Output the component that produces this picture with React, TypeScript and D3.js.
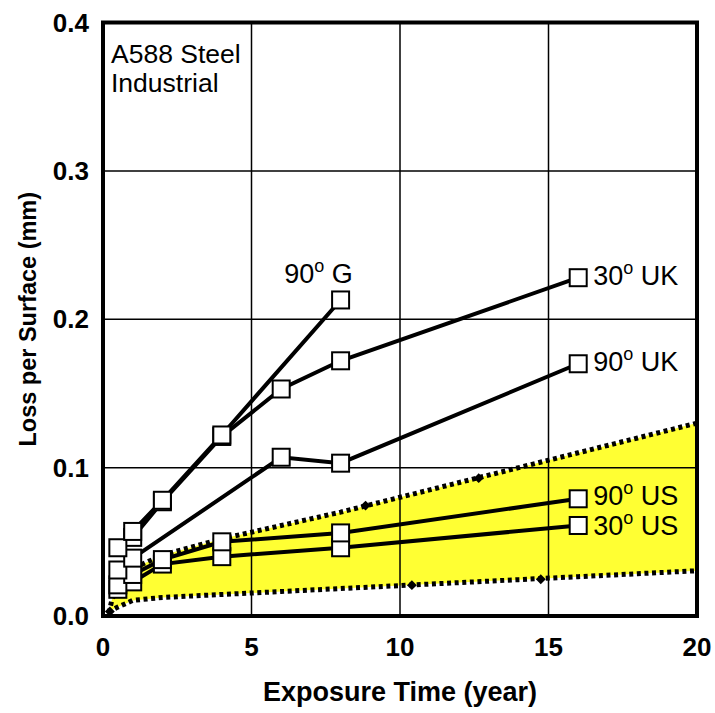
import React from "react";
import * as d3 from "d3";

// measured series: [year, loss mm]
const g90 = [[0.5, 0.046], [1, 0.057], [2, 0.078], [4, 0.122], [8, 0.213]];
const uk30 = [[1, 0.053], [2, 0.077], [4, 0.121], [6, 0.153], [8, 0.172], [16, 0.228]];
const uk90 = [[0.5, 0.031], [1, 0.039], [6, 0.107], [8, 0.103], [16, 0.17]];
const us90 = [[0.5, 0.021], [1, 0.028], [2, 0.038], [4, 0.05], [8, 0.056], [16, 0.079]];
const us30 = [[0.5, 0.018], [1, 0.023], [2, 0.035], [4, 0.04], [8, 0.046], [16, 0.061]];

// yellow band bounds
const bandYears = [0.2, 0.3, 0.5, 1, 2, 4, 6, 8, 10, 12, 14, 16, 18, 20];
const bandUpper = [0.002, 0.011, 0.02, 0.032, 0.041, 0.052, 0.061, 0.07, 0.08, 0.09, 0.1, 0.11, 0.12, 0.13];
const bandLower = [0.002, 0.004, 0.006, 0.0105, 0.0125, 0.0145, 0.0165, 0.0185, 0.0205, 0.0225, 0.0245, 0.0265, 0.0285, 0.0305];
const diamonds = [[0.23, 0.003], [8.84, 0.0744], [12.65, 0.0929], [10.4, 0.0208], [14.74, 0.0248]];

const xTicks = [0, 5, 10, 15, 20];
const yTicks = [0, 0.1, 0.2, 0.3, 0.4];

const labels = [
  { data: g90, deg: "90", name: "G", dx: -22, dy: -17 },
  { data: uk30, deg: "30", name: "UK", dx: 15, dy: 7 },
  { data: uk90, deg: "90", name: "UK", dx: 15, dy: 7 },
  { data: us90, deg: "90", name: "US", dx: 15, dy: 6 },
  { data: us30, deg: "30", name: "US", dx: 15, dy: 10 },
];

const W = 715;
const H = 713;
const m = { left: 103, right: 697, top: 22.5, bottom: 616 };

export default function App() {
  const x = d3.scaleLinear().domain([0, 20]).range([m.left, m.right]);
  const y = d3.scaleLinear().domain([0, 0.4]).range([m.bottom, m.top]);

  const band = bandYears.map((t, i) => ({ t, lo: bandLower[i], hi: bandUpper[i] }));
  const area = d3.area<any>().x(d => x(d.t)).y0(d => y(d.lo)).y1(d => y(d.hi));
  const upLine = d3.line<any>().x(d => x(d.t)).y(d => y(d.hi));
  const loLine = d3.line<any>().x(d => x(d.t)).y(d => y(d.lo));
  const line = d3.line<number[]>().x(d => x(d[0])).y(d => y(d[1]));

  const series = [us30, us90, uk90, uk30, g90];
  const font = "'Liberation Sans', Arial, sans-serif";
  const sq = 17;

  return (
    <svg width={W} height={H} style={{ position: "absolute", left: 0, top: 0, background: "#fff" }} fontFamily={font}>
      <path d={area(band) || ""} fill="#ffff33" />
      {/* grid */}
      {xTicks.slice(1, -1).map(t => (
        <line key={"gx" + t} x1={x(t)} x2={x(t)} y1={m.top} y2={m.bottom} stroke="#000" strokeWidth={1.5} />
      ))}
      {yTicks.slice(1, -1).map(t => (
        <line key={"gy" + t} x1={m.left} x2={m.right} y1={y(t)} y2={y(t)} stroke="#000" strokeWidth={1.5} />
      ))}
      {/* dotted band edges */}
      <path d={upLine(band) || ""} fill="none" stroke="#000" strokeWidth={5} strokeDasharray="4 3.6" />
      <path d={loLine(band) || ""} fill="none" stroke="#000" strokeWidth={5} strokeDasharray="4 3.6" />
      {diamonds.map((d, i) => (
        <rect key={"dm" + i} x={x(d[0]) - 3.5} y={y(d[1]) - 3.5} width={7} height={7} fill="#000"
          transform={`rotate(45 ${x(d[0])} ${y(d[1])})`} />
      ))}
      {/* frame */}
      <rect x={m.left} y={m.top} width={m.right - m.left} height={m.bottom - m.top} fill="none" stroke="#000" strokeWidth={4} />
      {/* series */}
      {series.map((s, i) => (
        <path key={"s" + i} d={line(s) || ""} fill="none" stroke="#000" strokeWidth={4} />
      ))}
      {series.map((s, i) =>
        s.map((d, j) => (
          <rect key={`p${i}-${j}`} x={x(d[0]) - sq / 2} y={y(d[1]) - sq / 2} width={sq} height={sq}
            fill="#fff" stroke="#000" strokeWidth={2} />
        ))
      )}
      {/* series labels */}
      {labels.map((l, i) => {
        const last = l.data[l.data.length - 1];
        return (
          <text key={"l" + i} x={x(last[0]) + l.dx} y={y(last[1]) + l.dy} fontSize={27}
            textAnchor={l.dx < 0 ? "middle" : "start"}>
            {l.deg}
            <tspan fontSize={18} dy={-11}>o</tspan>
            <tspan dy={11}>{" " + l.name}</tspan>
          </text>
        );
      })}
      <text x={111} y={63} fontSize={26.5}>A588 Steel</text>
      <text x={111} y={92} fontSize={26.5}>Industrial</text>
      {/* axes labels */}
      {yTicks.map(t => (
        <text key={"yt" + t} x={89} y={y(t) + 9} textAnchor="end" fontSize={26} fontWeight="bold">
          {d3.format(".1f")(t)}
        </text>
      ))}
      {xTicks.map(t => (
        <text key={"xt" + t} x={x(t)} y={656} textAnchor="middle" fontSize={26} fontWeight="bold">
          {t}
        </text>
      ))}
      <text x={(m.left + m.right) / 2} y={701} textAnchor="middle" fontSize={27} fontWeight="bold">
        Exposure Time (year)
      </text>
      <text transform={`translate(36,${(m.top + m.bottom) / 2}) rotate(-90)`} textAnchor="middle" fontSize={23.5} fontWeight="bold">
        Loss per Surface (mm)
      </text>
    </svg>
  );
}
